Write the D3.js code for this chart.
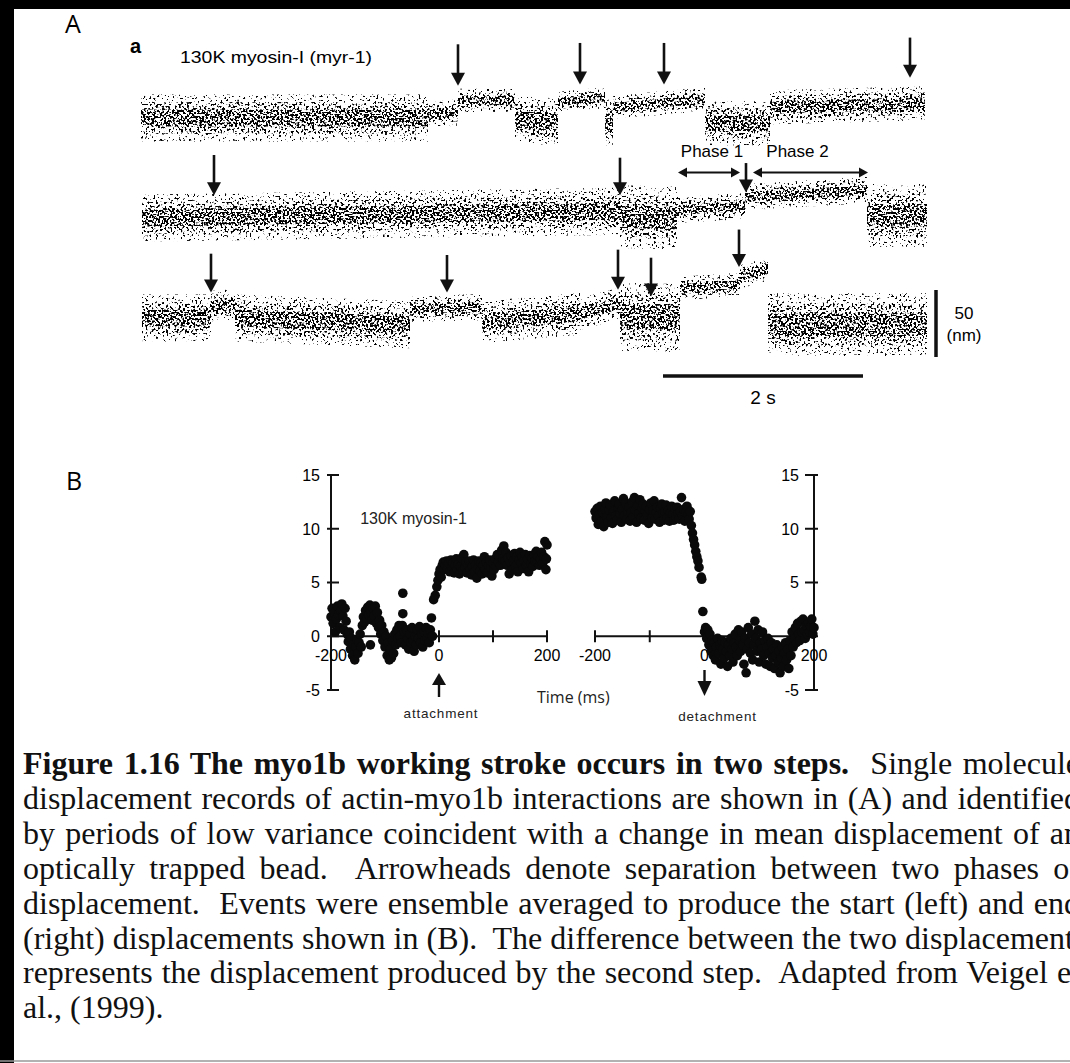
<!DOCTYPE html>
<html>
<head>
<meta charset="utf-8">
<script src="https://cdn.jsdelivr.net/npm/d3@7"></script>
<style>
html, body { margin: 0; padding: 0; background: #fff; overflow: hidden; }
#fig { position: relative; width: 1070px; height: 1063px; overflow: hidden; background: #fff; }
#fig svg { position: absolute; left: 0; top: 0; }
.cap { position: absolute; left: 23px; width: 1057px; font-family: "Liberation Serif", "Times New Roman", serif;
       font-size: 32px; line-height: 35px; white-space: nowrap; text-align: justify; text-align-last: justify; color: #111; }
.cap.last { text-align: left; text-align-last: left; }
</style>
</head>
<body>
<div id="fig"></div>
<script>
// ---- panel A : displacement records, one list per row
// segment = [t start (s), t end (s), level at start (nm), level at end (nm), noise half-width (nm)]
const traceRow1 = [
    [0.01, 2.88, 0, 0, 9],
    [2.88, 3.18, 3, 4, 5],
    [3.18, 3.75, 13, 13.5, 4.5],
    [3.75, 4.18, -1, -3, 9],
    [4.18, 4.65, 12, 15, 4],
    [4.65, 4.73, -3, -3, 9],
    [4.73, 5.65, 8, 14, 4.5],
    [5.65, 6.30, -4, -4, 8.5],
    [6.30, 7.85, 8, 11, 6.5]
];
const traceRow2 = [
    [0.02, 4.80, 0, 5, 9],
    [4.80, 5.37, 1, 0, 12],
    [5.37, 6.05, 6, 9, 5],
    [6.05, 7.27, 15.5, 21, 5],
    [7.27, 7.87, 2, 2, 12]
];
const traceRow3 = [
    [0.02, 0.71, 0, 0, 9],
    [0.71, 0.95, 9, 10, 6],
    [0.95, 2.70, 0, -5, 9],
    [2.70, 3.42, 7, 8, 5],
    [3.42, 4.40, -3, 3, 8],
    [4.40, 4.80, 3, 11, 6],
    [4.80, 5.40, 1, 0, 13],
    [5.40, 6.00, 22, 25, 4.5],
    [6.00, 6.28, 31, 36, 4.5],
    [6.28, 7.87, -5, -5, 12]
];
// arrow = [t (s), tip (nm), tail (nm)]
const arrowsRow1 = [[3.18, 24, 55], [4.40, 25, 56], [5.24, 25, 56], [7.70, 30, 60]];
const arrowsRow2 = [[0.74, 17, 47], [4.80, 17, 45], [6.06, 19, 41]];
const arrowsRow3 = [[0.71, 19, 48], [3.07, 19, 47], [4.78, 21, 51], [5.11, 16, 45], [5.99, 38, 66]];
const phaseNames = ["Phase 1", "Phase 2"];
const phaseStart = [5.38, 6.13];
const phaseEnd = [6.00, 7.28];
const phaseLevel = 34;
const scaleTime = 2;    // s
const scaleNm = 50;     // nm

// ---- panel B : ensemble averages, [time (ms), displacement (nm)]
const yTicksB = [15, 10, 5, 0, -5];
const xTicksB = [-200, -100, 0, 100, 200];
const xLabelsB = [-200, 0, 200];
const startPoints = [
    [-200,1.8],[-198,2.6],[-196,1.2],[-194,2.2],[-192,0.4],[-190,1.6],[-188,2.8],[-186,2.0],[-184,0.8],[-182,2.4],
    [-180,3.0],[-178,1.9],[-176,0.6],[-174,2.6],[-172,1.4],[-170,0.2],[-168,-0.5],[-166,0.4],[-164,-1.2],[-162,-0.2],
    [-160,-1.8],[-158,-0.8],[-156,-2.2],[-154,-1.0],[-152,-0.3],[-150,-1.6],[-148,-0.6],[-146,0.2],[-144,-1.0],
    [-142,1.0],[-140,1.8],[-138,1.3],[-136,2.4],[-134,1.6],[-132,2.7],[-130,2.0],[-128,2.9],[-126,2.2],[-124,1.5],
    [-122,2.6],[-120,1.9],[-118,2.8],[-116,1.2],[-114,2.2],[-112,0.8],[-110,1.5],[-108,0.2],[-106,1.0],[-127,-0.8],
    [-104,-0.4],[-102,0.4],[-100,-1.0],[-98,0.0],[-96,-1.8],[-94,-0.6],[-92,-2.2],[-90,-1.2],[-88,-2.0],[-86,-0.4],
    [-84,-1.6],[-82,0.2],[-80,-0.8],[-78,0.6],[-76,-0.2],[-74,1.0],[-72,0.0],[-67,4.0],[-67,2.1],[-68,1.0],[-70,-0.6],
    [-64,0.4],[-62,-0.8],[-60,0.6],[-58,-0.2],[-56,-1.2],[-54,0.2],[-52,-0.6],[-50,0.8],[-48,-0.4],[-46,-1.4],
    [-44,0.0],[-42,-0.8],[-40,0.6],[-38,-0.2],[-36,0.9],[-34,-0.6],[-32,0.2],[-30,-1.0],[-28,0.4],[-26,-0.4],
    [-24,0.8],[-22,-0.2],[-20,0.3],[-18,-0.6],[-16,0.6],[-14,1.7],[-12,0.0],
    [-10,3.4],[-7,3.8],[-4,4.6],[-2,5.2],[0,5.8],[2,6.2],[4,5.5],[6,6.6],[8,6.9],[10,6.2],
    [12,6.6],[14,7.0],[16,6.3],[18,6.8],[20,6.0],[22,7.1],[24,6.4],[26,6.8],[28,5.9],[30,6.6],[32,7.2],[34,6.2],
    [36,6.7],[38,5.8],[40,6.5],[42,7.3],[44,6.1],[46,7.6],[48,6.4],[50,6.9],[52,5.9],[54,6.6],[56,7.0],[58,6.2],
    [60,5.7],[62,6.5],[64,7.1],[66,6.0],[68,6.7],[70,5.4],[72,6.3],[74,7.0],[76,6.1],[78,6.8],[80,5.8],[82,6.6],
    [84,7.4],[86,6.2],[88,6.9],[90,5.9],[92,6.6],[94,7.1],[96,6.4],[98,5.6],[100,6.8],[102,6.2],[104,7.2],[106,6.5],
    [108,7.6],[110,6.9],[112,7.4],[114,6.6],[116,8.0],[118,7.2],[120,8.4],[122,7.0],[124,7.8],[126,6.6],[128,7.3],
    [130,5.8],[132,6.9],[134,7.5],[136,6.2],[138,7.0],[140,7.7],[142,6.5],[144,7.4],[146,6.0],[148,7.1],[150,7.8],
    [152,6.8],[154,7.4],[156,6.3],[158,7.0],[160,7.6],[162,6.6],[164,7.2],[166,6.0],[168,7.5],[170,6.8],[172,7.3],
    [174,6.5],[176,7.6],[178,7.0],[180,7.9],[182,6.9],[184,7.4],[186,6.6],[188,7.2],[190,7.8],[192,6.8],[194,7.4],
    [196,8.8],[198,6.2],[200,8.5],[199,7.2]
];
const endPoints = [
    [-200,11.6],[-198,11.0],[-196,11.9],[-194,10.4],[-192,11.3],[-190,12.1],[-188,10.7],[-186,11.5],[-184,10.2],
    [-182,11.8],[-180,12.4],[-178,11.1],[-176,10.6],[-174,11.7],[-172,12.2],[-170,11.0],[-168,10.5],[-166,11.6],
    [-164,12.6],[-162,11.2],[-160,10.8],[-158,11.9],[-156,12.3],[-154,11.4],[-152,10.6],[-150,11.8],[-148,12.8],
    [-146,11.2],[-144,12.4],[-142,10.9],[-140,11.6],[-138,12.0],[-136,10.7],[-134,11.5],[-132,12.5],[-130,11.1],
    [-128,12.9],[-126,11.7],[-124,10.6],[-122,12.2],[-120,11.4],[-118,12.7],[-116,11.0],[-114,11.9],[-112,12.3],
    [-110,10.8],[-108,11.6],[-106,12.1],[-104,11.3],[-102,10.5],[-100,11.8],[-98,12.4],[-96,11.0],[-94,11.7],
    [-92,12.6],[-90,10.9],[-88,11.5],[-86,12.0],[-84,11.2],[-82,10.6],[-80,11.9],[-78,12.3],[-76,11.4],[-74,10.8],
    [-72,11.6],[-70,12.2],[-68,11.0],[-66,11.7],[-64,10.7],[-62,11.5],[-60,12.1],[-58,11.3],[-56,10.8],[-54,11.9],
    [-52,11.1],[-50,12.0],[-48,11.4],[-46,10.9],[-44,11.6],[-42,12.9],[-40,11.2],[-38,11.8],[-36,10.7],[-34,11.5],
    [-32,12.1],[-30,11.3],[-28,10.9],[-26,11.6],
    [-24,10.3],[-22,9.6],[-20,9.0],[-18,8.5],[-16,7.9],[-14,7.4],[-12,7.0],[-10,6.4],[-6,5.5],[-5,5.3],[-3,2.3],
    [0,0.4],[2,0.8],[4,-0.2],[6,0.6],[8,-0.8],[10,0.2],[12,-1.4],[14,-0.4],[16,-1.8],[18,-0.6],[20,-2.2],[22,-1.0],
    [24,-0.2],[26,-1.6],[28,-0.8],[30,-2.6],[32,-0.4],[34,-1.2],[36,-2.0],[38,-0.6],[40,-1.4],[42,-2.8],[44,-0.8],
    [46,-1.8],[48,-0.2],[50,-1.2],[52,-2.4],[54,-0.6],[56,0.2],[58,-1.0],[60,-1.8],[62,0.6],[64,-0.4],[66,-1.4],
    [68,0.4],[70,-0.8],[72,-2.6],[74,-0.2],[76,-3.4],[78,-1.2],[80,0.8],[82,-0.6],[84,-1.6],[86,0.2],[88,-2.2],
    [90,-0.8],[92,1.4],[94,-0.2],[96,-1.4],[98,0.6],[100,-2.4],[102,-0.6],[104,-1.2],[106,0.4],[108,-1.8],[110,-0.4],
    [112,-2.6],[114,-1.0],[116,-0.2],[118,-1.6],[120,-2.8],[122,-0.6],[124,-2.0],[126,-1.2],[128,-3.0],[130,-1.8],
    [132,-0.8],[134,-2.4],[136,-1.4],[138,-3.4],[140,-2.0],[142,-1.0],[144,-2.8],[146,-1.6],[148,-0.6],[150,-2.2],
    [152,-1.2],[154,-3.0],[156,-0.4],[158,-1.8],[160,0.4],[162,-1.0],[164,-0.2],[166,0.8],[168,-0.6],[170,1.2],
    [172,0.2],[174,-0.4],[176,1.4],[178,0.4],[180,1.6],[182,0.6],[184,-0.2],[186,1.0],[188,0.2],[190,1.3],[192,0.4],
    [194,0.9],[196,1.6],[198,0.2],[200,0.8]
];

const captionLines = [
    "<b>Figure 1.16 The myo1b working stroke occurs in two steps.</b>&nbsp; Single molecule",
    "displacement records of actin-myo1b interactions are shown in (A) and identified",
    "by periods of low variance coincident with a change in mean displacement of an",
    "optically trapped bead.&nbsp; Arrowheads denote separation between two phases of",
    "displacement.&nbsp; Events were ensemble averaged to produce the start (left) and end",
    "(right) displacements shown in (B).&nbsp; The difference between the two displacements",
    "represents the displacement produced by the second step.&nbsp; Adapted from Veigel et",
    "al., (1999)."
];

const W = 1070, H = 1063;
const sans = "'Liberation Sans', Arial, Helvetica, sans-serif";
const light = "'Open Sans', 'Noto Sans', sans-serif";

const fig = d3.select("#fig");
const svg = fig.append("svg").attr("width", W).attr("height", H);
const defs = svg.append("defs");

// frame
svg.append("rect").attr("x", 0).attr("y", 0).attr("width", W).attr("height", 9).attr("fill", "#000");
svg.append("rect").attr("x", 0).attr("y", 0).attr("width", 14).attr("height", H).attr("fill", "#000");
svg.append("line").attr("x1", 0).attr("x2", W).attr("y1", 1061).attr("y2", 1061)
    .attr("stroke", "#999").attr("stroke-width", 1.5);

// speckle texture for the noisy records
const speckles = [
    {id: "sp-sparse", cut: 12.4, k: 1.95},
    {id: "sp-mid", cut: 11.0, k: 1.3},
    {id: "sp-dense", cut: 9.6, k: 0.7}
];
speckles.forEach(s => {
    const f = defs.append("filter").attr("id", s.id)
        .attr("filterUnits", "userSpaceOnUse")
        .attr("x", 0).attr("y", 0).attr("width", W).attr("height", H)
        .attr("color-interpolation-filters", "sRGB");
    f.append("feTurbulence").attr("type", "fractalNoise").attr("baseFrequency", 0.48)
        .attr("numOctaves", 1).attr("seed", 7).attr("result", "noise");
    f.append("feColorMatrix").attr("in", "noise").attr("type", "matrix")
        .attr("values", "0 0 0 0 0  0 0 0 0 0  0 0 0 0 0  20 0 0 0 -" + s.cut)
        .attr("result", "dots");
    f.append("feComposite").attr("in", "dots").attr("in2", "SourceAlpha").attr("operator", "in");
});

// ---------------- panel A
svg.append("text").attr("x", 65).attr("y", 33).attr("font-family", light).attr("font-size", 25).text("A");
svg.append("text").attr("x", 130).attr("y", 53).attr("font-family", sans).attr("font-weight", "bold")
    .attr("font-size", 20).text("a");
svg.append("text").attr("x", 180).attr("y", 63).attr("font-family", sans).attr("font-size", 17)
    .attr("textLength", 192).attr("lengthAdjust", "spacingAndGlyphs").text("130K myosin-I (myr-1)");

const xA = d3.scaleLinear().domain([0, 7.9]).range([140, 930]);
const rows = [
    {segs: traceRow1, arrows: arrowsRow1, base: 118},
    {segs: traceRow2, arrows: arrowsRow2, base: 218},
    {segs: traceRow3, arrows: arrowsRow3, base: 318}
];
rows.forEach(r => {
    r.y = d3.scaleLinear().domain([0, scaleNm]).range([r.base, r.base - 67]);
});

speckles.forEach(s => {
    const g = svg.append("g").attr("filter", "url(#" + s.id + ")");
    rows.forEach(r => {
        const area = d3.area()
            .x(d => xA(d.t))
            .y0(d => r.y(d.v - s.k * d.s))
            .y1(d => r.y(d.v + s.k * d.s));
        g.selectAll(null)
            .data(r.segs.map(d => [{t: d[0], v: d[2], s: d[4]}, {t: d[1], v: d[3], s: d[4]}]))
            .join("path")
            .attr("d", area)
            .attr("fill", "#000");
    });
});

// arrows pointing down at the records
const headW = 14, headH = 13;
rows.forEach(r => {
    const g = svg.append("g");
    g.selectAll("line").data(r.arrows).join("line")
        .attr("x1", d => xA(d[0])).attr("x2", d => xA(d[0]))
        .attr("y1", d => r.y(d[2])).attr("y2", d => r.y(d[1]) - headH + 1)
        .attr("stroke", "#111").attr("stroke-width", 2.6);
    g.selectAll("path").data(r.arrows).join("path")
        .attr("d", d => {
            const x = xA(d[0]), y = r.y(d[1]);
            return `M${x - headW / 2},${y - headH}L${x + headW / 2},${y - headH}L${x},${y}Z`;
        })
        .attr("fill", "#111");
});

// phase spans on row 2
const yR2 = rows[1].y;
const phase = svg.append("g");
phaseNames.forEach((name, i) => {
    const x0 = xA(phaseStart[i]), x1 = xA(phaseEnd[i]), y = yR2(phaseLevel);
    phase.append("line").attr("x1", x0 + 3).attr("x2", x1 - 3).attr("y1", y).attr("y2", y)
        .attr("stroke", "#111").attr("stroke-width", 2);
    phase.append("path").attr("d", `M${x0},${y}l9,-5v10Z`).attr("fill", "#111");
    phase.append("path").attr("d", `M${x1},${y}l-9,-5v10Z`).attr("fill", "#111");
    phase.append("text").attr("x", (x0 + x1) / 2 + (i === 0 ? 3 : -13)).attr("y", yR2(phaseLevel + 16) + 6)
        .attr("text-anchor", "middle").attr("font-family", sans).attr("font-size", 17)
        .text(name);
});

// scale bars
const yR3 = rows[2].y;
svg.append("line").attr("x1", xA(5.23)).attr("x2", xA(5.23 + scaleTime)).attr("y1", 376).attr("y2", 376)
    .attr("stroke", "#111").attr("stroke-width", 3.5);
svg.append("text").attr("x", xA(5.23 + scaleTime / 2)).attr("y", 404).attr("text-anchor", "middle")
    .attr("font-family", sans).attr("font-size", 19).text(scaleTime + " s");
const nmTop = 290;
svg.append("line").attr("x1", 936).attr("x2", 936)
    .attr("y1", nmTop).attr("y2", nmTop + (yR3(0) - yR3(scaleNm)))
    .attr("stroke", "#111").attr("stroke-width", 3.5);
svg.append("text").attr("x", 964).attr("y", 319).attr("text-anchor", "middle")
    .attr("font-family", sans).attr("font-size", 17).text(scaleNm);
svg.append("text").attr("x", 964).attr("y", 341).attr("text-anchor", "middle")
    .attr("font-family", sans).attr("font-size", 17).text("(nm)");

// ---------------- panel B
svg.append("text").attr("x", 66).attr("y", 490).attr("font-family", light).attr("font-size", 25).text("B");

const yB = d3.scaleLinear().domain([-5, 15]).range([690, 475]);
const xStart = d3.scaleLinear().domain([-200, 200]).range([331, 547]);
const xEnd = d3.scaleLinear().domain([-200, 200]).range([595, 814]);

function drawPanelB(x, pts, axisAt, side) {
    const g = svg.append("g");
    const ax = x(axisAt);
    // y axis
    g.append("line").attr("x1", ax).attr("x2", ax).attr("y1", yB(15)).attr("y2", yB(-5))
        .attr("stroke", "#111").attr("stroke-width", 2);
    g.selectAll(".yt").data(yTicksB).join("line")
        .attr("x1", ax - (side < 0 ? 4 : 9)).attr("x2", ax + (side < 0 ? 8 : 4))
        .attr("y1", d => yB(d)).attr("y2", d => yB(d))
        .attr("stroke", "#111").attr("stroke-width", 2);
    g.selectAll(".yl").data(yTicksB).join("text")
        .attr("x", side < 0 ? ax - 11 : ax - 15).attr("y", d => yB(d)).attr("dy", "0.36em")
        .attr("text-anchor", "end").attr("font-family", sans).attr("font-size", 16)
        .text(d => d);
    // x axis
    g.append("line").attr("x1", x(-200)).attr("x2", x(200)).attr("y1", yB(0)).attr("y2", yB(0))
        .attr("stroke", "#111").attr("stroke-width", 2);
    g.selectAll(".xt").data(xTicksB).join("line")
        .attr("x1", d => x(d)).attr("x2", d => x(d))
        .attr("y1", yB(0) - 6).attr("y2", yB(0) + 6)
        .attr("stroke", "#111").attr("stroke-width", 2);
    g.selectAll(".xl").data(xLabelsB).join("text")
        .attr("x", d => x(d)).attr("y", yB(0) + 25).attr("text-anchor", "middle")
        .attr("font-family", sans).attr("font-size", 16)
        .text(d => d);
    g.selectAll("circle").data(pts).join("circle")
        .attr("cx", d => x(d[0])).attr("cy", d => yB(d[1])).attr("r", 4.8)
        .attr("fill", "#0a0a0a");
    return g;
}
drawPanelB(xStart, startPoints, -200, -1);
drawPanelB(xEnd, endPoints, 200, 1);

svg.append("text").attr("x", xStart(-146)).attr("y", yB(10.4)).attr("font-family", sans).attr("font-size", 16)
    .attr("fill", "#222").text("130K myosin-1");
svg.append("text").attr("x", 537).attr("y", 703).attr("font-family", light).attr("font-size", 16)
    .attr("fill", "#222").text("Time (ms)");

// attachment / detachment markers
const xa = xStart(0), xd = xEnd(0);
svg.append("path").attr("d", `M${xa},${673}l7,12h-7h-7Z`).attr("fill", "#111");
svg.append("line").attr("x1", xa).attr("x2", xa).attr("y1", 684).attr("y2", 697)
    .attr("stroke", "#111").attr("stroke-width", 2.4);
svg.append("text").attr("x", xa + 2).attr("y", 718).attr("text-anchor", "middle")
    .attr("font-family", sans).attr("font-size", 13.5).attr("letter-spacing", 0.8).attr("fill", "#222")
    .text("attachment");
svg.append("line").attr("x1", xd).attr("x2", xd).attr("y1", 670).attr("y2", 682)
    .attr("stroke", "#111").attr("stroke-width", 2.4);
svg.append("path").attr("d", `M${xd},${696}l7,-15h-14Z`).attr("fill", "#111");
svg.append("text").attr("x", xd + 13).attr("y", 721).attr("text-anchor", "middle")
    .attr("font-family", sans).attr("font-size", 13.5).attr("letter-spacing", 0.8).attr("fill", "#222")
    .text("detachment");

// ---------------- caption
fig.selectAll("div.cap").data(captionLines).join("div")
    .attr("class", (d, i) => i === captionLines.length - 1 ? "cap last" : "cap")
    .style("top", (d, i) => (746 + i * 34.9) + "px")
    .html(d => d);
</script>
</body>
</html>
